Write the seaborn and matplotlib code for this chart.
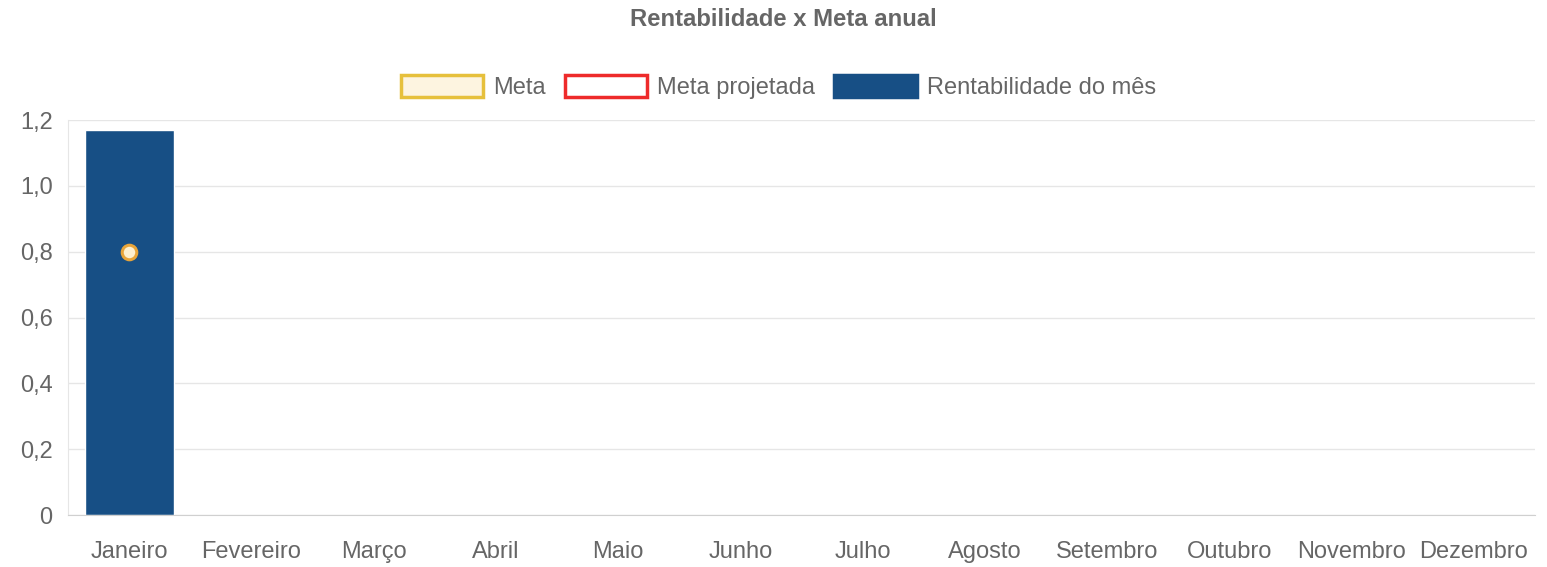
import matplotlib
matplotlib.use('Agg')
import matplotlib.pyplot as plt
from matplotlib import font_manager
from matplotlib.patches import Patch
import numpy as np
import pandas as pd
import seaborn as sns

meses = ['Janeiro', 'Fevereiro', 'Março', 'Abril', 'Maio', 'Junho', 'Julho',
         'Agosto', 'Setembro', 'Outubro', 'Novembro', 'Dezembro']
rentabilidade = [1.17, None, None, None, None, None, None, None, None, None, None, None]
meta = [0.8, None, None, None, None, None, None, None, None, None, None, None]
meta_projetada = [None] * 12
yticks = [0, 0.2, 0.4, 0.6, 0.8, 1.0, 1.2]

df = pd.DataFrame({'mes': meses,
                   'rentabilidade': np.array(rentabilidade, dtype=float),
                   'meta': np.array(meta, dtype=float),
                   'meta_projetada': np.array(meta_projetada, dtype=float)})

sns.set_style('white')
plt.rcParams['font.family'] = ['Liberation Sans', 'DejaVu Sans']
grey = '#666666'

# regular-width bold face (avoid the Narrow variant)
title_font = None
for f in font_manager.fontManager.ttflist:
    if f.name == 'Liberation Sans' and f.weight in (700, 'bold') and f.style == 'normal' \
            and 'Narrow' not in f.fname:
        title_font = font_manager.FontProperties(fname=f.fname, size=17.2)
        break
if title_font is None:
    title_font = font_manager.FontProperties(family='DejaVu Sans', weight='bold', size=15)

fig = plt.figure(figsize=(15.47, 5.67), dpi=100)
ax = fig.add_axes([68 / 1547, 1 - 515 / 567, (1535 - 68) / 1547, (515 - 120) / 567])

sns.barplot(data=df, x='mes', y='rentabilidade', order=meses, color='#174f85',
            width=0.73, saturation=1, ax=ax, zorder=2)
sns.scatterplot(data=df, x='mes', y='meta', ax=ax, s=110, color='#fdf0d0',
                edgecolor='#e8a53a', linewidth=2.2, zorder=4, legend=False)
sns.lineplot(data=df, x='mes', y='meta_projetada', ax=ax, color='#ee2b2b', legend=False)

ax.set_ylim(0, 1.2)
ax.set_xlim(-0.5, 11.5)
ax.set_yticks(yticks)
ax.set_yticklabels([('%.1f' % v).replace('.', ',') if v else '0' for v in yticks])
ax.set_xlabel('')
ax.set_ylabel('')
ax.yaxis.grid(True, color='#e6e6e6', linewidth=1, zorder=0)
ax.set_axisbelow(True)
for s in ['top', 'right']:
    ax.spines[s].set_visible(False)
ax.spines['left'].set_color('#e6e6e6')
ax.spines['bottom'].set_color('#d0d0d0')
ax.tick_params(axis='both', colors=grey, labelsize=17, length=0)
ax.tick_params(axis='y', pad=11)
ax.tick_params(axis='x', pad=19)

fig.text(0.5065, 1 - 20 / 567, 'Rentabilidade x Meta anual', ha='center', va='center',
         fontproperties=title_font, color=grey)

handles = [Patch(facecolor='#fdf4e0', edgecolor='#e6c03c', linewidth=2.5),
           Patch(facecolor='white', edgecolor='#ee2b2b', linewidth=2.5),
           Patch(facecolor='#174f85', edgecolor='#174f85', linewidth=2.5)]
labels = ['Meta', 'Meta projetada', 'Rentabilidade do mês']
leg = fig.legend(handles, labels, loc='center', bbox_to_anchor=(0.503, 1 - 87 / 567),
                 ncol=3, frameon=False, fontsize=17, handlelength=3.5,
                 handleheight=1.05, handletextpad=0.42, columnspacing=0.8)
for t in leg.get_texts():
    t.set_color(grey)

plt.savefig('out.png', dpi=100)
